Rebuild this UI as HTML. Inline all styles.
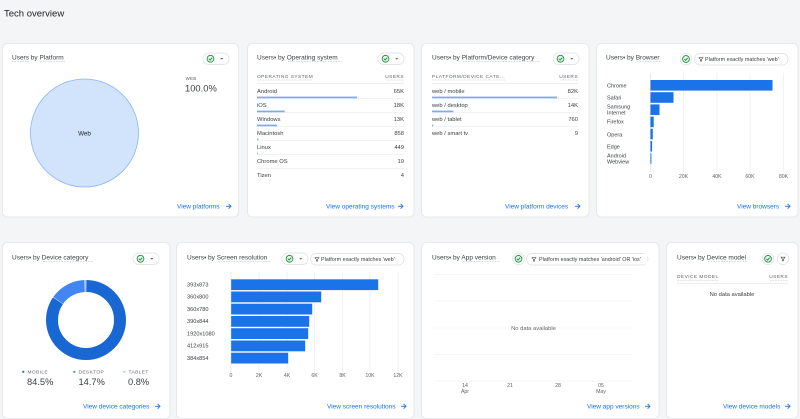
<!DOCTYPE html>
<html><head><meta charset="utf-8"><style>
html,body{margin:0;padding:0;background:#f4f5f7;}
svg{display:block;font-family:"Liberation Sans",Arial,sans-serif;}
</style></head><body>
<svg width="800" height="419" viewBox="0 0 800 419" xmlns="http://www.w3.org/2000/svg">
<defs>
<g id="chk"><circle cx="0" cy="0" r="3.4" fill="#e6f4ea" stroke="#1e8e3e" stroke-width="0.9"/><polyline points="-1.6,0.1 -0.4,1.3 1.7,-1.1" fill="none" stroke="#1e8e3e" stroke-width="0.9"/></g>
<g id="pill"><rect x="0" y="0" width="26" height="11.5" rx="5.75" fill="#fff" stroke="#dadce0" stroke-width="0.7"/><use href="#chk" x="7.5" y="5.75"/><polygon points="17.3,5 20.3,5 18.8,6.8" fill="#5f6368"/></g>
<g id="arr"><line x1="0" y1="0" x2="5" y2="0" stroke="#1a73e8" stroke-width="0.9"/><polyline points="2.6,-2.4 5,0 2.6,2.4" fill="none" stroke="#1a73e8" stroke-width="0.9"/></g>
<g id="fun"><polygon points="-2,-1.8 2,-1.8 0.5,0.2 0.5,1.8 -0.5,1.8 -0.5,0.2" fill="none" stroke="#3c4043" stroke-width="0.6"/></g>
</defs>
<rect width="800" height="419" fill="#f4f5f7"/>
<text x="4" y="16.5" font-size="9.5" fill="#202124">Tech overview</text>

<!-- Card 1 -->
<rect x="2.5" y="43.5" width="236" height="173.5" rx="5" fill="#fff" stroke="#e3e4e7" stroke-width="0.8"/>
<text x="12" y="59.3" font-size="6.5" fill="#3c4043">Users by Platform</text>
<line x1="12" y1="61.5" x2="29" y2="61.5" stroke="#9aa0a6" stroke-width="0.5" stroke-dasharray="0.8,0.8"/>
<line x1="40" y1="61.5" x2="65" y2="61.5" stroke="#9aa0a6" stroke-width="0.5" stroke-dasharray="0.8,0.8"/>
<use href="#pill" x="203" y="53"/>
<circle cx="84.5" cy="133" r="54" fill="#d2e3fc" stroke="#8ab4f8" stroke-width="0.8"/>
<text x="84.5" y="135.3" font-size="6.3" fill="#202124" text-anchor="middle">Web</text>
<text x="185.5" y="80" font-size="4.6" fill="#5f6368" letter-spacing="0.2">WEB</text>
<text x="185" y="91.5" font-size="9.4" fill="#3c4043">100.0%</text>
<text x="177" y="208.5" font-size="6.5" fill="#1a73e8">View platforms</text>
<use href="#arr" x="226" y="206.3"/>

<!-- Card 2 OS -->
<rect x="247.5" y="43.5" width="166.5" height="173.5" rx="5" fill="#fff" stroke="#e3e4e7" stroke-width="0.8"/>
<text x="257" y="59.3" font-size="6.5" fill="#3c4043">Users<tspan font-size="4.5" dy="-0.3">▾</tspan><tspan dy="0.3"> by Operating system</tspan></text>
<line x1="288" y1="61.5" x2="342" y2="61.5" stroke="#9aa0a6" stroke-width="0.5" stroke-dasharray="0.8,0.8"/>
<use href="#pill" x="378" y="53"/>
<text x="257" y="77.8" font-size="4.8" fill="#5f6368" letter-spacing="0.45">OPERATING SYSTEM</text>
<text x="404" y="77.8" font-size="4.8" fill="#5f6368" letter-spacing="0.45" text-anchor="end">USERS</text>
<line x1="257" y1="80" x2="313" y2="80" stroke="#9aa0a6" stroke-width="0.45" stroke-dasharray="0.8,0.8"/>
<line x1="386" y1="80" x2="404" y2="80" stroke="#9aa0a6" stroke-width="0.45" stroke-dasharray="0.8,0.8"/>
<line x1="257" y1="83.5" x2="404" y2="83.5" stroke="#dadce0" stroke-width="0.6"/>
<g font-size="5.8" fill="#3c4043">
<text x="257" y="93">Android</text><text x="404" y="93" text-anchor="end">65K</text>
<text x="257" y="107">iOS</text><text x="404" y="107" text-anchor="end">18K</text>
<text x="257" y="121">Windows</text><text x="404" y="121" text-anchor="end">13K</text>
<text x="257" y="135">Macintosh</text><text x="404" y="135" text-anchor="end">858</text>
<text x="257" y="149">Linux</text><text x="404" y="149" text-anchor="end">449</text>
<text x="257" y="163">Chrome OS</text><text x="404" y="163" text-anchor="end">19</text>
<text x="257" y="177">Tizen</text><text x="404" y="177" text-anchor="end">4</text>
</g>
<g stroke="#e8eaed" stroke-width="0.6">
<line x1="257" y1="98.3" x2="404" y2="98.3"/><line x1="257" y1="112.3" x2="404" y2="112.3"/><line x1="257" y1="126.3" x2="404" y2="126.3"/><line x1="257" y1="140.3" x2="404" y2="140.3"/><line x1="257" y1="154.3" x2="404" y2="154.3"/><line x1="257" y1="168.3" x2="404" y2="168.3"/>
</g>
<g fill="#7baaf7">
<rect x="257" y="96.6" width="100" height="1.7"/><rect x="257" y="110.6" width="27.7" height="1.7"/><rect x="257" y="124.6" width="20" height="1.7"/><rect x="257" y="138.6" width="1.3" height="1.7"/><rect x="257" y="152.6" width="0.8" height="1.7"/>
</g>
<text x="326" y="208.5" font-size="6.5" fill="#1a73e8">View operating systems</text>
<use href="#arr" x="398" y="206.3"/>

<!-- Card 3 Platform/Device -->
<rect x="421.5" y="43.5" width="167.5" height="173.5" rx="5" fill="#fff" stroke="#e3e4e7" stroke-width="0.8"/>
<text x="432" y="59.3" font-size="6.5" fill="#3c4043">Users<tspan font-size="4.5" dy="-0.3">▾</tspan><tspan dy="0.3"> by Platform/Device category</tspan></text>
<line x1="463" y1="61.5" x2="540" y2="61.5" stroke="#9aa0a6" stroke-width="0.5" stroke-dasharray="0.8,0.8"/>
<use href="#pill" x="553" y="53"/>
<text x="432" y="77.8" font-size="4.8" fill="#5f6368" letter-spacing="0.45">PLATFORM/DEVICE CATE...</text>
<text x="578" y="77.8" font-size="4.8" fill="#5f6368" letter-spacing="0.45" text-anchor="end">USERS</text>
<line x1="432" y1="80" x2="505" y2="80" stroke="#9aa0a6" stroke-width="0.45" stroke-dasharray="0.8,0.8"/>
<line x1="560" y1="80" x2="578" y2="80" stroke="#9aa0a6" stroke-width="0.45" stroke-dasharray="0.8,0.8"/>
<line x1="432" y1="83.5" x2="578" y2="83.5" stroke="#dadce0" stroke-width="0.6"/>
<g font-size="5.8" fill="#3c4043">
<text x="432" y="93">web / mobile</text><text x="578" y="93" text-anchor="end">82K</text>
<text x="432" y="107">web / desktop</text><text x="578" y="107" text-anchor="end">14K</text>
<text x="432" y="121">web / tablet</text><text x="578" y="121" text-anchor="end">760</text>
<text x="432" y="135">web / smart tv</text><text x="578" y="135" text-anchor="end">9</text>
</g>
<g stroke="#e8eaed" stroke-width="0.6">
<line x1="432" y1="98.3" x2="578" y2="98.3"/><line x1="432" y1="112.3" x2="578" y2="112.3"/><line x1="432" y1="126.3" x2="578" y2="126.3"/>
</g>
<g fill="#7baaf7">
<rect x="432" y="96.6" width="125" height="1.7"/><rect x="432" y="110.6" width="21.5" height="1.7"/><rect x="432" y="124.6" width="1.2" height="1.7"/>
</g>
<text x="505" y="208.5" font-size="6.5" fill="#1a73e8">View platform devices</text>
<use href="#arr" x="575" y="206.3"/>

<!-- Card 4 Browser -->
<rect x="596.5" y="43.5" width="201.5" height="173.5" rx="5" fill="#fff" stroke="#e3e4e7" stroke-width="0.8"/>
<text x="606" y="59.3" font-size="6.5" fill="#3c4043">Users<tspan font-size="4.5" dy="-0.3">▾</tspan><tspan dy="0.3"> by Browser</tspan></text>
<line x1="637" y1="61.5" x2="662" y2="61.5" stroke="#9aa0a6" stroke-width="0.5" stroke-dasharray="0.8,0.8"/>
<circle cx="686" cy="59" r="5.8" fill="#fff" stroke="#dadce0" stroke-width="0.7"/>
<use href="#chk" x="686" y="59"/>
<rect x="694.5" y="53.5" width="93.5" height="11.5" rx="5.75" fill="#fff" stroke="#dadce0" stroke-width="0.7"/>
<use href="#fun" x="701" y="59.3"/>
<text x="705" y="61.2" font-size="5.4" fill="#3c4043">Platform exactly matches 'web'</text>
<g stroke="#e8eaed" stroke-width="0.6">
<line x1="683.5" y1="73" x2="683.5" y2="172"/><line x1="717" y1="73" x2="717" y2="172"/><line x1="750" y1="73" x2="750" y2="172"/><line x1="783.5" y1="73" x2="783.5" y2="172"/>
</g>
<line x1="650.3" y1="73" x2="650.3" y2="172" stroke="#dadce0" stroke-width="0.6"/>
<g fill="#1a73e8">
<rect x="650.5" y="80" width="122" height="10.6"/>
<rect x="650.5" y="92.2" width="23" height="10.6"/>
<rect x="650.5" y="104.4" width="9" height="10.6"/>
<rect x="650.5" y="116.6" width="3.2" height="10.6"/>
<rect x="650.5" y="128.8" width="2.3" height="10.6"/>
<rect x="650.5" y="141" width="1.6" height="10.6"/>
<rect x="650.5" y="153.2" width="0.9" height="10.6"/>
</g>
<g font-size="5.5" fill="#3c4043">
<text x="607" y="87.5">Chrome</text>
<text x="607" y="99.3">Safari</text>
<text x="607" y="108.5">Samsung</text><text x="607" y="114.6">Internet</text>
<text x="607" y="123.6">Firefox</text>
<text x="607" y="136.6">Opera</text>
<text x="607" y="148.6">Edge</text>
<text x="607" y="157.6">Android</text><text x="607" y="163.6">Webview</text>
</g>
<g font-size="5.2" fill="#5f6368" text-anchor="middle">
<text x="650.5" y="177.8">0</text><text x="683.5" y="177.8">20K</text><text x="717" y="177.8">40K</text><text x="750" y="177.8">60K</text><text x="783.5" y="177.8">80K</text>
</g>
<text x="737" y="208.5" font-size="6.5" fill="#1a73e8">View browsers</text>
<use href="#arr" x="785" y="206.3"/>

<!-- Card 5 Device category -->
<rect x="2.5" y="242.5" width="167.5" height="176" rx="5" fill="#fff" stroke="#e3e4e7" stroke-width="0.8"/>
<text x="12" y="259.3" font-size="6.5" fill="#3c4043">Users<tspan font-size="4.5" dy="-0.3">▾</tspan><tspan dy="0.3"> by Device category</tspan></text>
<line x1="43" y1="261.5" x2="93" y2="261.5" stroke="#9aa0a6" stroke-width="0.5" stroke-dasharray="0.8,0.8"/>
<use href="#pill" x="133" y="253"/>
<g transform="rotate(-90 86 320)" fill="none" stroke-width="12">
<circle cx="86" cy="320" r="34" stroke="#1967d2" stroke-dasharray="180.1 33.5" stroke-dashoffset="-0.3"/>
<circle cx="86" cy="320" r="34" stroke="#4285f4" stroke-dasharray="31 182.6" stroke-dashoffset="-180.8"/>
<circle cx="86" cy="320" r="34" stroke="#a8c7fa" stroke-dasharray="1.4 212.2" stroke-dashoffset="-212.1"/>
</g>
<g font-size="4.8" fill="#5f6368" letter-spacing="0.4">
<circle cx="23.3" cy="371.8" r="1.1" fill="#1967d2"/><text x="27.5" y="373.6">MOBILE</text>
<circle cx="74.3" cy="371.8" r="1.1" fill="#4285f4"/><text x="78.5" y="373.6">DESKTOP</text>
<circle cx="124.3" cy="371.8" r="1.1" fill="#a8c7fa"/><text x="128.5" y="373.6">TABLET</text>
</g>
<g font-size="9.3" fill="#3c4043">
<text x="27" y="385.2">84.5%</text><text x="78.5" y="385.2">14.7%</text><text x="128" y="385.2">0.8%</text>
</g>
<text x="83" y="408.5" font-size="6.5" fill="#1a73e8">View device categories</text>
<use href="#arr" x="155" y="406.3"/>

<!-- Card 6 Screen resolution -->
<rect x="176.5" y="242.5" width="237.5" height="176" rx="5" fill="#fff" stroke="#e3e4e7" stroke-width="0.8"/>
<text x="187" y="259.3" font-size="6.5" fill="#3c4043">Users<tspan font-size="4.5" dy="-0.3">▾</tspan><tspan dy="0.3"> by Screen resolution</tspan></text>
<line x1="218" y1="261.5" x2="270" y2="261.5" stroke="#9aa0a6" stroke-width="0.5" stroke-dasharray="0.8,0.8"/>
<use href="#pill" x="282" y="253"/>
<rect x="310.5" y="253.5" width="93.5" height="11.5" rx="5.75" fill="#fff" stroke="#dadce0" stroke-width="0.7"/>
<use href="#fun" x="317" y="259.3"/>
<text x="321" y="261.2" font-size="5.4" fill="#3c4043">Platform exactly matches 'web'</text>
<g stroke="#e8eaed" stroke-width="0.6">
<line x1="259" y1="272" x2="259" y2="372"/><line x1="287" y1="272" x2="287" y2="372"/><line x1="314.5" y1="272" x2="314.5" y2="372"/><line x1="342.5" y1="272" x2="342.5" y2="372"/><line x1="370" y1="272" x2="370" y2="372"/><line x1="398" y1="272" x2="398" y2="372"/>
</g>
<line x1="231" y1="272" x2="231" y2="372" stroke="#dadce0" stroke-width="0.6"/>
<g fill="#1a73e8">
<rect x="231.2" y="279.3" width="147" height="10.8"/>
<rect x="231.2" y="291.5" width="90" height="10.8"/>
<rect x="231.2" y="303.7" width="81" height="10.8"/>
<rect x="231.2" y="316" width="78" height="10.8"/>
<rect x="231.2" y="328.2" width="77" height="10.8"/>
<rect x="231.2" y="340.5" width="74" height="10.8"/>
<rect x="231.2" y="352.7" width="57" height="10.8"/>
</g>
<g font-size="5.6" fill="#3c4043">
<text x="187" y="286.4">393x873</text>
<text x="187" y="298.6">360x800</text>
<text x="187" y="310.8">360x780</text>
<text x="187" y="323.1">390x844</text>
<text x="187" y="335.3">1920x1080</text>
<text x="187" y="347.6">412x915</text>
<text x="187" y="359.8">384x854</text>
</g>
<g font-size="5.2" fill="#5f6368" text-anchor="middle">
<text x="231" y="377">0</text><text x="259" y="377">2K</text><text x="287" y="377">4K</text><text x="314.5" y="377">6K</text><text x="342.5" y="377">8K</text><text x="370" y="377">10K</text><text x="398" y="377">12K</text>
</g>
<text x="327" y="408.5" font-size="6.5" fill="#1a73e8">View screen resolutions</text>
<use href="#arr" x="401" y="406.3"/>

<!-- Card 7 App version -->
<rect x="421.5" y="242.5" width="237.5" height="176" rx="5" fill="#fff" stroke="#e3e4e7" stroke-width="0.8"/>
<text x="432" y="259.3" font-size="6.5" fill="#3c4043">Users<tspan font-size="4.5" dy="-0.3">▾</tspan><tspan dy="0.3"> by App version</tspan></text>
<line x1="463" y1="261.5" x2="499" y2="261.5" stroke="#9aa0a6" stroke-width="0.5" stroke-dasharray="0.8,0.8"/>
<circle cx="518.5" cy="258.8" r="5.8" fill="#fff" stroke="#dadce0" stroke-width="0.7"/>
<use href="#chk" x="518.5" y="258.8"/>
<rect x="526.5" y="253.5" width="121.5" height="11.5" rx="5.75" fill="#fff" stroke="#dadce0" stroke-width="0.7"/>
<use href="#fun" x="534" y="259.3"/>
<text x="539" y="261.2" font-size="5.4" fill="#3c4043">Platform exactly matches 'android' OR 'ios'</text>
<rect x="643" y="254" width="4.5" height="10.5" fill="#fff"/>
<g stroke="#e8eaed" stroke-width="0.6">
<line x1="434" y1="274.5" x2="633" y2="274.5"/><line x1="434" y1="301" x2="633" y2="301"/><line x1="434" y1="354.5" x2="633" y2="354.5"/><line x1="434" y1="381" x2="633" y2="381"/>
<line x1="434" y1="328" x2="504" y2="328"/><line x1="562" y1="328" x2="633" y2="328"/>
</g>
<text x="533.5" y="330" font-size="5.8" fill="#5f6368" text-anchor="middle">No data available</text>
<g font-size="5.2" fill="#5f6368" text-anchor="middle">
<text x="465" y="387.2">14</text><text x="465" y="393">Apr</text>
<text x="510" y="387.2">21</text>
<text x="558" y="387.2">28</text>
<text x="601" y="387.2">05</text><text x="601" y="393">May</text>
</g>
<text x="587" y="408.5" font-size="6.5" fill="#1a73e8">View app versions</text>
<use href="#arr" x="645" y="406.3"/>

<!-- Card 8 Device model -->
<rect x="666.5" y="242.5" width="131.5" height="176" rx="5" fill="#fff" stroke="#e3e4e7" stroke-width="0.8"/>
<text x="677" y="259.3" font-size="6.5" fill="#3c4043">Users<tspan font-size="4.5" dy="-0.3">▾</tspan><tspan dy="0.3"> by Device model</tspan></text>
<line x1="708" y1="261.5" x2="748" y2="261.5" stroke="#9aa0a6" stroke-width="0.5" stroke-dasharray="0.8,0.8"/>
<circle cx="768" cy="258.8" r="5.8" fill="#fff" stroke="#dadce0" stroke-width="0.7"/>
<use href="#chk" x="768" y="258.8"/>
<circle cx="783" cy="258.8" r="5.8" fill="#fff" stroke="#dadce0" stroke-width="0.7"/>
<use href="#fun" x="783" y="259"/>
<text x="677" y="278" font-size="4.8" fill="#5f6368" letter-spacing="0.45">DEVICE MODEL</text>
<text x="788" y="278" font-size="4.8" fill="#5f6368" letter-spacing="0.45" text-anchor="end">USERS</text>
<line x1="677" y1="280.2" x2="718" y2="280.2" stroke="#9aa0a6" stroke-width="0.45" stroke-dasharray="0.8,0.8"/>
<line x1="770" y1="280.2" x2="788" y2="280.2" stroke="#9aa0a6" stroke-width="0.45" stroke-dasharray="0.8,0.8"/>
<line x1="677" y1="283.5" x2="788" y2="283.5" stroke="#dadce0" stroke-width="0.6"/>
<text x="732" y="296" font-size="5.8" fill="#3c4043" text-anchor="middle">No data available</text>
<text x="723" y="408.5" font-size="6.5" fill="#1a73e8">View device models</text>
<use href="#arr" x="785" y="406.3"/>
</svg>
</body></html>
